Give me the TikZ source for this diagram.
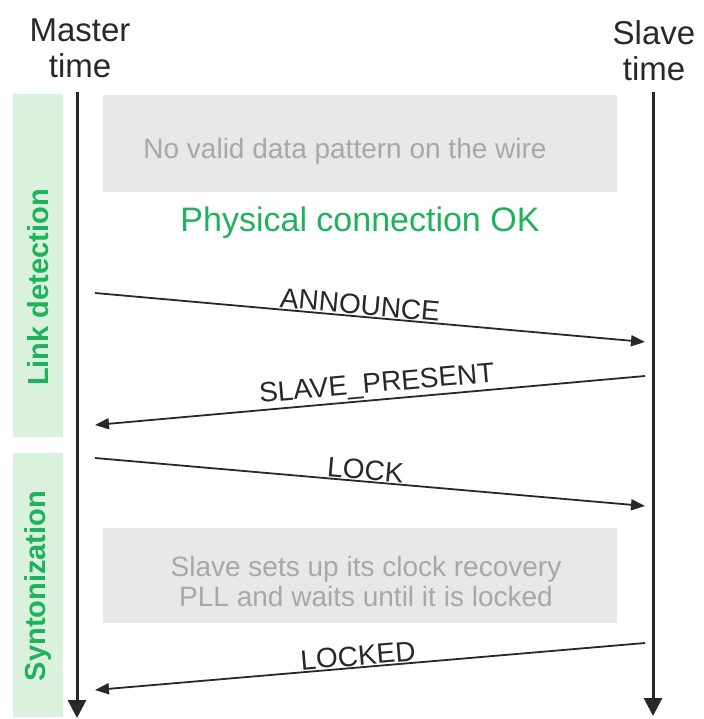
\documentclass[tikz,border=0pt]{standalone}
\usepackage{fontspec}
\setmainfont{Liberation Sans}
\usetikzlibrary{arrows.meta}
\definecolor{phasegreen}{RGB}{218,242,221}
\definecolor{textgreen}{RGB}{30,178,90}
\definecolor{boxgray}{RGB}{232,232,232}
\definecolor{notegray}{RGB}{168,168,168}
\definecolor{linegray}{RGB}{40,40,40}
\begin{document}
\begin{tikzpicture}[x=1pt,y=-1pt,
    timeline/.style={line width=3pt, draw=linegray, -{Triangle[length=18pt,width=18pt]}},
    msg/.style={line width=1.8pt, draw=linegray, -{Triangle[length=14pt,width=11pt]}},
    msglabel/.style={font=\fontsize{28}{30}\selectfont, text=linegray, sloped, above, inner sep=1pt},
    phasebar/.style={fill=phasegreen, inner sep=0pt, minimum width=50pt},
    phaselabel/.style={rotate=90, inner sep=0pt, font=\bfseries\fontsize{29}{30}\selectfont, text=textgreen},
    notebox/.style={fill=boxgray, inner sep=0pt, minimum width=514pt},
    notetext/.style={align=center, inner sep=0pt, font=\fontsize{28}{30}\selectfont, text=notegray},
    header/.style={align=center, inner sep=0pt, font=\fontsize{33}{36}\selectfont, text=linegray}]
    \useasboundingbox (0,0) rectangle (703,719);

    % phases
    \node[phasebar, minimum height=343pt] (linkbar) at (38,265.5) {};
    \node[phasebar, minimum height=264pt] (syntbar) at (38,585) {};
    \node[phaselabel] (linkdet) at (38,287.5) {Link detection};
    \node[phaselabel] (synton) at (38,586) {Syntonization};

    % time axes
    \node[header] (master) at (80,48) {Master\\time};
    \node[header] (slave) at (654,51) {Slave\\time};
    \coordinate (mtop) at (77,92);
    \coordinate (mbot) at (77,718);
    \coordinate (stop) at (653,92);
    \coordinate (sbot) at (653,716);
    \draw[timeline] (mtop) -- (mbot);
    \draw[timeline] (stop) -- (sbot);

    % notes
    \node[notebox, minimum height=97pt] (nodatabox) at (360,143.5) {};
    \node[notetext] (nodata) at (345,151) {No valid data pattern on the wire};
    \node[font=\fontsize{34}{36}\selectfont, text=textgreen] (physok) at (360,223) {Physical connection OK};
    \node[notebox, minimum height=95pt] (pllbox) at (360,575.5) {};
    \node[notetext] (pllnote) at (366,581.5) {Slave sets up its clock recovery\\PLL and waits until it is locked};

    % messages
    \coordinate (m1) at (95,293);  \coordinate (s1) at (645,342);
    \coordinate (s2) at (645,376); \coordinate (m2) at (95,425);
    \coordinate (m3) at (95,458);  \coordinate (s3) at (645,506);
    \coordinate (s4) at (645,643); \coordinate (m4) at (95,690);
    \draw[msg] (m1) -- node[msglabel, pos=0.48] {ANNOUNCE} (s1);
    \draw[msg] (s2) -- node[msglabel, pos=0.485] {SLAVE\_PRESENT} (m2);
    \draw[msg] (m3) -- node[msglabel, pos=0.49] {LOCK} (s3);
    \draw[msg] (s4) -- node[msglabel, pos=0.52] {LOCKED} (m4);
\end{tikzpicture}
\end{document}
